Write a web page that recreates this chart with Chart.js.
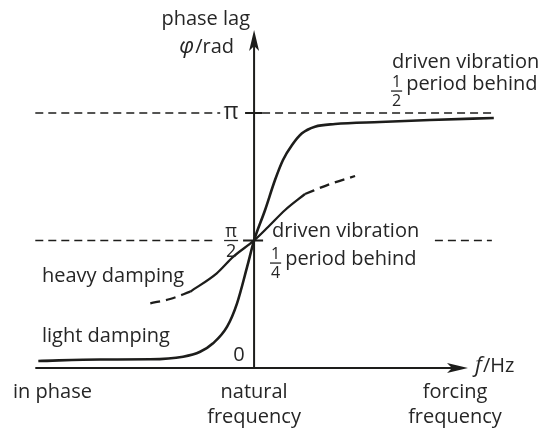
<!DOCTYPE html>
<html>
<head>
<meta charset="utf-8">
<script src="https://cdn.jsdelivr.net/npm/chart.js@4"></script>
<style>
  body { margin: 0; background: #fff; }
  #wrap { width: 543px; height: 436px; }
</style>
</head>
<body>
<div id="wrap"><canvas id="phaseChart"></canvas></div>
<script>
// forcing frequency as multiples of the natural frequency, phase lag in rad
const lightF     = [0, 0.287, 0.519, 0.671, 0.75, 0.81, 0.875, 0.921, 0.968, 1.0, 1.051, 1.097, 1.134, 1.176, 1.222, 1.282, 1.375, 1.583, 1.815, 2.111];
const lightPhase = [0.086, 0.105, 0.107, 0.139, 0.20, 0.304, 0.509, 0.797, 1.248, 1.571, 1.946, 2.315, 2.562, 2.746, 2.89, 2.972, 3.005, 3.03, 3.054, 3.079];

const heavyF     = [0.704, 0.827, 0.904, 1.0, 1.066, 1.144, 1.236];
const heavyPhase = [0.94, 1.166, 1.371, 1.571, 1.74, 1.946, 2.143];
const heavyLowF      = [0.519, 0.611, 0.704];
const heavyLowPhase  = [0.797, 0.85, 0.94];
const heavyHighF     = [1.236, 1.352, 1.468];
const heavyHighPhase = [2.143, 2.266, 2.365];

// dashed guide lines at pi/2 and pi (gaps left for the labels)
const halfPiSegments = [[-0.014, 0.819], [1.838, 2.102]];
const piSegments     = [[-0.014, 0.843], [1.037, 2.102]];
const yTickLabels = ['0', 'π', '2', 'π'];

const ink = '#1d1d1b';
const textInk = '#262626';
const font = '"Open Sans", "Noto Sans", sans-serif';

function pts(xs, ys) { return xs.map((x, i) => ({ x: x, y: ys[i] })); }

const datasets = [];
halfPiSegments.forEach(s => datasets.push({
  data: [{ x: s[0], y: Math.PI / 2 }, { x: s[1], y: Math.PI / 2 }],
  borderColor: ink, borderWidth: 1.6, borderDash: [8, 5], pointRadius: 0
}));
piSegments.forEach(s => datasets.push({
  data: [{ x: s[0], y: Math.PI }, { x: s[1], y: Math.PI }],
  borderColor: ink, borderWidth: 1.6, borderDash: [8, 5], pointRadius: 0
}));
datasets.push({
  label: 'light damping', data: pts(lightF, lightPhase),
  borderColor: ink, borderWidth: 2.6, pointRadius: 0, cubicInterpolationMode: 'monotone'
});
datasets.push({
  label: 'heavy damping', data: pts(heavyF, heavyPhase),
  borderColor: ink, borderWidth: 2.3, pointRadius: 0, cubicInterpolationMode: 'monotone'
});
datasets.push({
  data: pts(heavyLowF, heavyLowPhase), borderColor: ink, borderWidth: 2.3,
  borderDash: [10, 6], pointRadius: 0, cubicInterpolationMode: 'monotone'
});
datasets.push({
  data: pts(heavyHighF, heavyHighPhase), borderColor: ink, borderWidth: 2.3,
  borderDash: [10, 6], pointRadius: 0, cubicInterpolationMode: 'monotone'
});

// text on an alphabetic baseline
function text(ctx, str, x, y, align, size, italic) {
  ctx.font = (italic ? 'italic ' : '') + size + 'px ' + font;
  ctx.textAlign = align || 'left';
  ctx.textBaseline = 'alphabetic';
  ctx.fillText(str, x, y);
  return ctx.measureText(str).width;
}

// stacked fraction with its bar at y, returns its width
function fraction(ctx, num, den, x, y, size) {
  ctx.font = size + 'px ' + font;
  const w = Math.max(ctx.measureText(num).width, ctx.measureText(den).width) + 2;
  ctx.textAlign = 'center';
  ctx.textBaseline = 'alphabetic';
  ctx.fillText(num, x + w / 2, y - 4);
  ctx.fillText(den, x + w / 2, y + 15);
  ctx.fillRect(x, y - 0.6, w, 1.3);
  return w;
}

const diagram = {
  id: 'diagram',
  afterDraw(chart) {
    const ctx = chart.ctx;
    const xs = chart.scales.x, ys = chart.scales.y;
    const x0 = xs.getPixelForValue(1);
    const y0 = ys.getPixelForValue(0);
    const yHalf = ys.getPixelForValue(Math.PI / 2);
    const yPi = ys.getPixelForValue(Math.PI);
    ctx.save();
    ctx.strokeStyle = ink;
    ctx.fillStyle = ink;
    ctx.lineWidth = 2;
    // axes
    const xEnd = 468;
    const yTop = 30;
    ctx.beginPath();
    ctx.moveTo(xs.getPixelForValue(-0.014), y0);
    ctx.lineTo(xEnd - 8, y0);
    ctx.moveTo(x0, y0 + 1);
    ctx.lineTo(x0, yTop + 8);
    // ticks at pi/2 and pi
    ctx.moveTo(x0 - 11, yHalf); ctx.lineTo(x0 + 9, yHalf);
    ctx.moveTo(x0 - 9, yPi); ctx.lineTo(x0 + 8, yPi);
    ctx.stroke();
    // arrow heads
    ctx.beginPath();
    ctx.moveTo(xEnd, y0);
    ctx.lineTo(xEnd - 21, y0 - 5);
    ctx.lineTo(xEnd - 16, y0);
    ctx.lineTo(xEnd - 21, y0 + 5);
    ctx.closePath();
    ctx.moveTo(x0, yTop);
    ctx.lineTo(x0 - 5, yTop + 21);
    ctx.lineTo(x0, yTop + 16);
    ctx.lineTo(x0 + 5, yTop + 21);
    ctx.closePath();
    ctx.fill();

    ctx.fillStyle = textInk;
    // tick labels
    text(ctx, yTickLabels[0], x0 - 15, y0 - 7, 'center', 20);
    text(ctx, yTickLabels[3], x0 - 23, yPi + 6, 'center', 23);
    ctx.font = '18px ' + font;
    ctx.textAlign = 'center';
    ctx.fillText(yTickLabels[1], x0 - 23, yHalf - 3);
    ctx.fillText(yTickLabels[2], x0 - 23, yHalf + 17);
    ctx.fillRect(x0 - 30, yHalf - 0.6, 14, 1.3);

    // axis titles
    text(ctx, 'phase lag', 250, 25, 'right', 20);
    const rw = text(ctx, '/rad', 234, 53, 'right', 20);
    text(ctx, 'φ', 234 - rw - 1, 53, 'right', 22, true);
    text(ctx, 'f', 475, 372, 'left', 22, true);
    text(ctx, '/Hz', 483, 372, 'left', 20);

    // annotations
    text(ctx, 'driven vibration', 392, 68, 'left', 20);
    let w = fraction(ctx, '1', '2', 391, 91, 16);
    text(ctx, 'period behind', 391 + w + 4, 90, 'left', 20);
    text(ctx, 'driven vibration', 272, 237, 'left', 20);
    w = fraction(ctx, '1', '4', 270, 263, 16);
    text(ctx, 'period behind', 270 + w + 4, 265, 'left', 20);
    text(ctx, 'heavy damping', 42, 282, 'left', 20);
    text(ctx, 'light damping', 42, 342, 'left', 20);

    // frequency labels under the axis
    text(ctx, 'in phase', 13, 398, 'left', 20);
    text(ctx, 'natural', x0, 398, 'center', 20);
    text(ctx, 'frequency', x0, 423, 'center', 20);
    text(ctx, 'forcing', 455, 398, 'center', 20);
    text(ctx, 'frequency', 455, 423, 'center', 20);
    ctx.restore();
  }
};

new Chart(document.getElementById('phaseChart'), {
  type: 'line',
  data: { datasets: datasets },
  options: {
    responsive: true,
    maintainAspectRatio: false,
    animation: false,
    layout: { padding: { left: 34, right: 30, top: 27, bottom: 68 } },
    scales: {
      x: { type: 'linear', min: -0.02, max: 2.2, display: false },
      y: { type: 'linear', min: 0, max: 4.2, display: false }
    },
    plugins: { legend: { display: false }, tooltip: { enabled: false } }
  },
  plugins: [diagram]
});
</script>
</body>
</html>
